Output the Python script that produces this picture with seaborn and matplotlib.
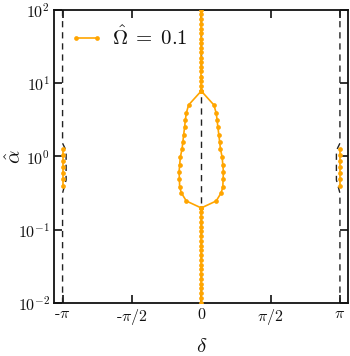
import numpy as np
import pandas as pd
import matplotlib
matplotlib.use("Agg")
import matplotlib.pyplot as plt
from matplotlib.lines import Line2D
import seaborn as sns

# ---- data ----
PI = np.pi
ORANGE = '#FFA500'

# central branch, above and below the loop (log10 alpha)
top_log = [2.0, 1.94, 1.87, 1.81, 1.74, 1.68, 1.61, 1.55, 1.48, 1.42,
           1.35, 1.29, 1.22, 1.16, 1.09, 1.03, 0.96, 0.894]
bot_log = [-0.703, -0.76, -0.83, -0.89, -0.96, -1.02, -1.09, -1.15, -1.22,
           -1.28, -1.35, -1.41, -1.48, -1.54, -1.61, -1.67, -1.74, -1.80,
           -1.87, -1.93, -2.0]

# left half of the loop, from top vertex to bottom vertex
loop_delta = [0.0, -0.286, -0.338, -0.360, -0.376, -0.399, -0.417, -0.435,
              -0.473, -0.489, -0.502, -0.495, -0.489, -0.450, -0.338, 0.0]
loop_log = [0.894, 0.703, 0.594, 0.498, 0.403, 0.294, 0.198, 0.102,
            -0.007, -0.116, -0.212, -0.307, -0.416, -0.498, -0.608, -0.703]

# small pieces at delta = +/- pi
edge_log = [0.10, 0.02, -0.06, -0.14, -0.22, -0.31, -0.40]

# dashed reference curves
dash_edge_off = [0.0, 0.0, 0.08, 0.08, 0.0, 0.0]
dash_edge_log = [2.0, 0.18, 0.08, -0.32, -0.50, -2.0]
dash_mid_log = [-2.0, 2.0]

# ---- build tables ----
rows = []
def add(branch, deltas, logs):
    for d, l in zip(deltas, logs):
        rows.append((branch, d, 10 ** l))

add('top', [0.0] * len(top_log), top_log)
add('bot', [0.0] * len(bot_log), bot_log)
add('loopL', loop_delta, loop_log)
add('loopR', [-d for d in loop_delta], loop_log)
add('edgeL', [-PI] * len(edge_log), edge_log)
add('edgeR', [PI] * len(edge_log), edge_log)
df = pd.DataFrame(rows, columns=['branch', 'delta', 'alpha'])

drows = []
for d, l in zip(dash_edge_off, dash_edge_log):
    drows.append(('dL', -PI + d, 10 ** l))
    drows.append(('dR', PI - d, 10 ** l))
for l in dash_mid_log:
    drows.append(('d0', 0.0, 10 ** l))
ddf = pd.DataFrame(drows, columns=['branch', 'delta', 'alpha'])

# ---- style ----
sns.set_style('ticks')
plt.rcParams['font.family'] = 'serif'
plt.rcParams['font.serif'] = ['cmr10', 'DejaVu Serif']
plt.rcParams['mathtext.fontset'] = 'cm'
plt.rcParams['axes.unicode_minus'] = False
plt.rcParams['axes.formatter.use_mathtext'] = True
plt.rcParams['axes.edgecolor'] = '#111111'
plt.rcParams['xtick.color'] = '#111111'
plt.rcParams['ytick.color'] = '#111111'
plt.rcParams['text.color'] = '#111111'
plt.rcParams['axes.labelcolor'] = '#111111'

fig = plt.figure(figsize=(3.5, 3.56), dpi=100)
ax = fig.add_axes([0.155, 0.149, 0.84, 0.823])

sns.lineplot(data=ddf, x='delta', y='alpha', units='branch', estimator=None,
             sort=False, color='#222222', lw=1.0, ax=ax, zorder=1)
for ln in ax.lines:
    ln.set_dashes((4.5, 3.5))

sns.lineplot(data=df, x='delta', y='alpha', units='branch', estimator=None,
             sort=False, color=ORANGE, lw=1.2, marker='o', ms=3.4,
             markeredgewidth=0, ax=ax, zorder=3)

ax.set_yscale('log')
ax.set_xlim(-1.06 * PI, 1.06 * PI)
ax.set_ylim(1e-2, 1e2)
ax.set_xticks([-PI, -PI / 2, 0, PI / 2, PI])
ax.set_xticklabels([r'-$\pi$', r'-$\pi/2$', r'$0$', r'$\pi/2$', r'$\pi$'])
ax.set_yticks([1e-2, 1e-1, 1e0, 1e1, 1e2])
ax.minorticks_off()
ax.tick_params(direction='in', length=6, width=1.2, labelsize=11.5,
               top=True, right=True, pad=3)
for s in ax.spines.values():
    s.set_linewidth(1.3)

ax.set_xlabel(r'$\delta$', fontsize=15)
ax.set_ylabel(r'$\hat{\alpha}$', fontsize=15)
ax.xaxis.set_label_coords(0.5, -0.12)
ax.yaxis.set_label_coords(-0.10, 0.5)

h = Line2D([], [], color=ORANGE, lw=1.2, marker='o', ms=3.4, markeredgewidth=0)
ax.legend([h], [r'$\hat{\Omega}\;=\;0.1$'], loc='upper left', frameon=False,
          numpoints=2, fontsize=15, handlelength=1.6, handletextpad=0.4,
          borderaxespad=0.35)

fig.savefig('out.png', dpi=100)
